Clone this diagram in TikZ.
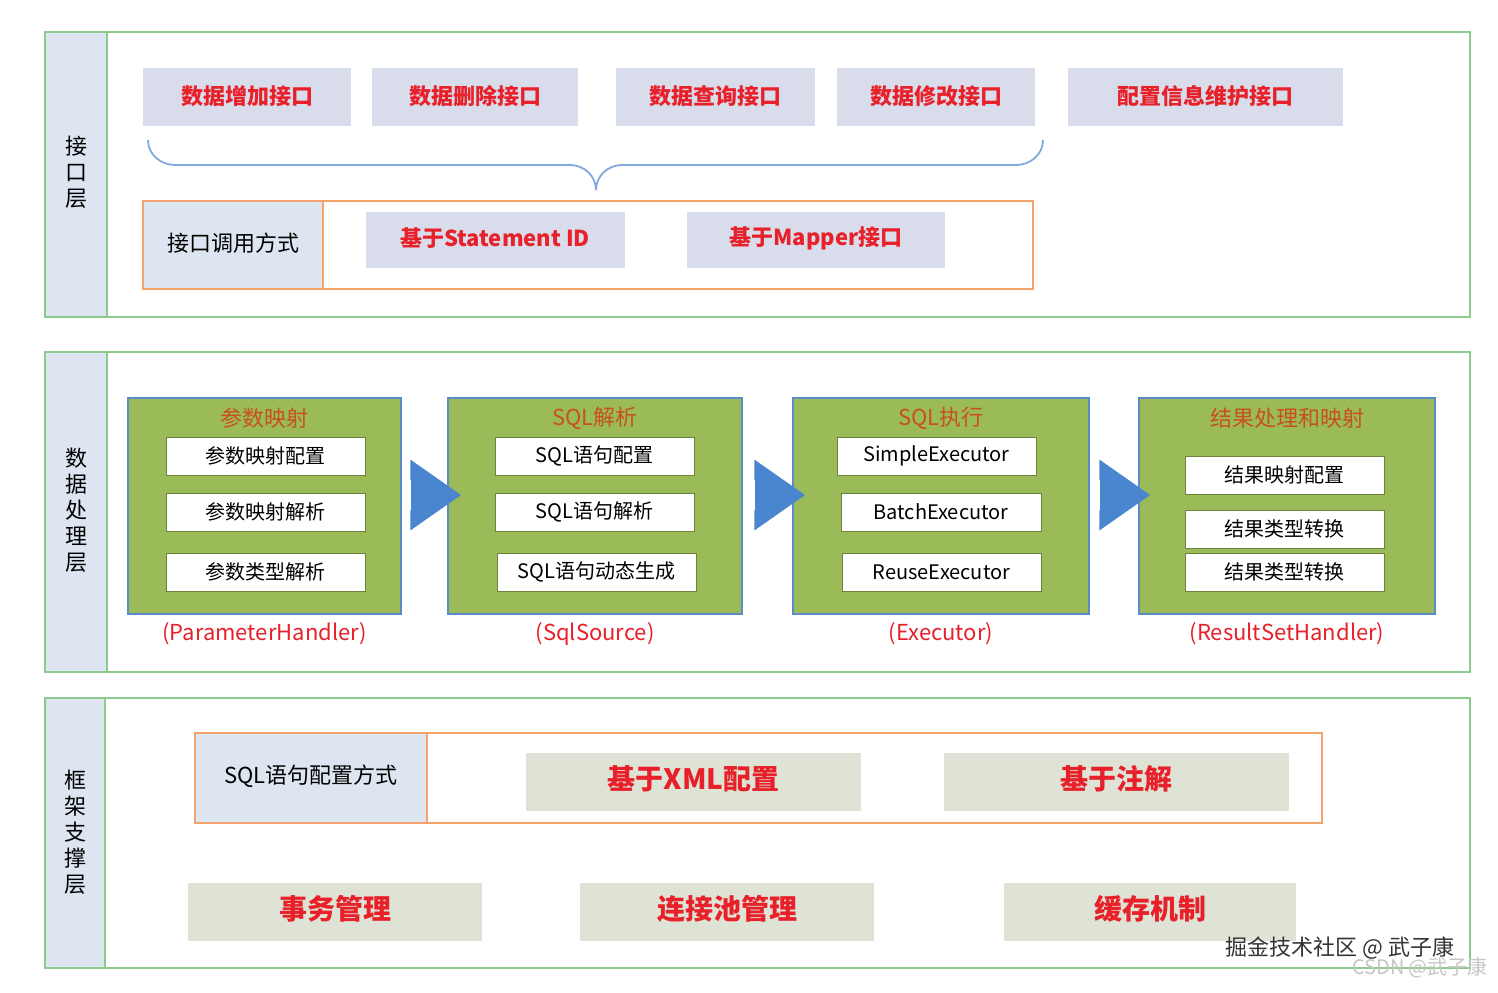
\documentclass[tikz,border=0pt]{standalone}
\usepackage{fontspec}
\setmainfont{Noto Sans CJK SC}
\usetikzlibrary{decorations.pathreplacing,shapes.arrows}
\definecolor{pgreen}{HTML}{8CCB8C}
\definecolor{lblue}{HTML}{DDE6F0}
\definecolor{tbox}{HTML}{D9DCEA}
\definecolor{tred}{HTML}{E8202A}
\definecolor{obord}{HTML}{F4A36C}
\definecolor{ggreen}{HTML}{9BBB59}
\definecolor{gbord}{HTML}{5B8BC8}
\definecolor{ttl}{HTML}{C8501E}
\definecolor{arr}{HTML}{4A86D0}
\definecolor{sbox}{HTML}{DFE3D5}
\tikzset{
 panel/.style={draw=pgreen,line width=1.2pt},
 lab/.style={fill=lblue,draw=pgreen,line width=1.2pt},
 ob/.style={draw=obord,line width=1pt},
 gb/.style={fill=ggreen,draw=gbord,line width=0.8pt},
 wb/.style={fill=white,draw=ggreen!70!black,line width=0.4pt},
 vt/.style={font=\fontsize{11}{13}\selectfont,align=center},
 bigarr/.style={single arrow,fill=arr,draw=none,minimum height=25pt,inner xsep=0pt,inner ysep=7.5pt,single arrow head extend=10pt,single arrow tip angle=70},
}
\begin{document}
\begin{tikzpicture}[x=0.5pt,y=-0.5pt]
\useasboundingbox (0,0) rectangle (1498,992);
\fill[white] (0,0) rectangle (1498,992);
% panel 1
\draw[panel] (45,32) rectangle (1470,317);
\draw[lab] (45,32) rectangle (107,317);
\node[vt] (l1) at (76,172) {接\\口\\层};
\foreach \a/\b/\t/\n in {143/351/数据增加接口/a1,372/578/数据删除接口/a2,616/815/数据查询接口/a3,837/1035/数据修改接口/a4,1068/1343/配置信息维护接口/a5}{
 \fill[tbox] (\a,68) rectangle (\b,126);
 \node[text=tred,font=\fontsize{11}{12}\selectfont\bfseries] (\n) at ({(\a+\b)/2},96) {\t};}
\coordinate (br1) at (148,140); \coordinate (br2) at (1043,140);
\draw[arr!70,line width=0.9pt] (br1) to[out=-90,in=180] (175,165) -- (570,165) to[out=0,in=90] (596,190);
\draw[arr!70,line width=0.9pt] (br2) to[out=-90,in=0] (1016,165) -- (622,165) to[out=180,in=90] (596,190);
\draw[ob] (143,201) rectangle (1033,289);
\fill[lblue] (144,202) rectangle (323,288);
\draw[obord,line width=1pt] (323,201) -- (323,289);
\node[font=\fontsize{11}{12}\selectfont] (call) at (233,243) {接口调用方式};
\fill[tbox] (366,212) rectangle (625,268);
\node[text=tred,font=\fontsize{11}{12}\selectfont\bfseries] (s1) at (495,238) {基于Statement ID};
\fill[tbox] (687,212) rectangle (945,268);
\node[text=tred,font=\fontsize{11}{12}\selectfont\bfseries] (s2) at (816,238) {基于Mapper接口};
% panel 2
\draw[panel] (45,352) rectangle (1470,672);
\draw[lab] (45,352) rectangle (107,672);
\node[vt] (l2) at (76,510) {数\\据\\处\\理\\层};
\foreach \a/\b/\t/\f/\n in {128/401/参数映射/(ParameterHandler)/g1,448/742/SQL解析/(SqlSource)/g2,793/1089/SQL执行/(Executor)/g3,1139/1435/结果处理和映射/(ResultSetHandler)/g4}{
 \draw[gb] (\a,398) rectangle (\b,614);
 \node[text=ttl,font=\fontsize{11}{12}\selectfont] (\n) at ({(\a+\b)/2},418) {\t};
 \node[text=tred,font=\fontsize{11}{12}\selectfont] (\n f) at ({(\a+\b)/2},634) {\f};}
\foreach \a/\b/\y/\t/\n in {166/365/456/参数映射配置/w11,166/365/512/参数映射解析/w12,166/365/572/参数类型解析/w13,
 495/694/456/SQL语句配置/w21,495/694/512/SQL语句解析/w22,497/696/572/SQL语句动态生成/w23,
 837/1036/456/SimpleExecutor/w31,841/1041/512/BatchExecutor/w32,842/1041/572/ReuseExecutor/w33,
 1185/1384/475/结果映射配置/w41,1185/1384/529/结果类型转换/w42,1185/1384/572/结果类型转换/w43}{
 \draw[wb] (\a,\y-19) rectangle (\b,\y+19);
 \node[font=\fontsize{10}{11}\selectfont] (\n) at ({(\a+\b)/2},\y) {\t};}
\node[bigarr] (ar1) at (425,495) {};
\node[bigarr] (ar2) at (769,495) {};
\node[bigarr] (ar3) at (1114,495) {};
% panel 3
\draw[panel] (45,698) rectangle (1470,968);
\draw[lab] (45,698) rectangle (105,968);
\node[vt] (l3) at (75,832) {框\\架\\支\\撑\\层};
\draw[ob] (195,733) rectangle (1322,823);
\fill[lblue] (196,734) rectangle (427,822);
\draw[obord,line width=1pt] (427,733) -- (427,823);
\node[font=\fontsize{11}{12}\selectfont] (cfg) at (311,776) {SQL语句配置方式};
\foreach \a/\b/\y/\t/\n in {526/861/782/基于XML配置/x1,944/1289/782/基于注解/x2,188/482/912/事务管理/b1,580/874/912/连接池管理/b2,1004/1296/912/缓存机制/b3}{
 \fill[sbox] (\a,\y-29) rectangle (\b,\y+29);
 \node[text=tred,font=\fontsize{14}{16}\selectfont\bfseries] (\n) at ({(\a+\b)/2},\y-3) {\t};}
\node[text=gray!45,font=\fontsize{10}{11}\selectfont] (wm2) at (1420,968) {CSDN @武子康};
\node[text=black!80,font=\fontsize{11}{12}\selectfont] (wm1) at (1340,948) {掘金技术社区 @ 武子康};
\end{tikzpicture}
\end{document}
